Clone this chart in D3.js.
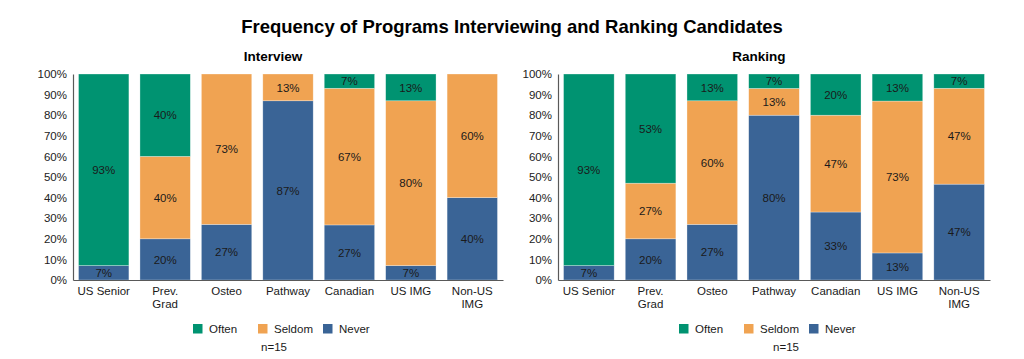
<!DOCTYPE html>
<html>
<head>
<meta charset="utf-8">
<script src="https://cdn.jsdelivr.net/npm/d3@7"></script>
<style>
  body { margin: 0; background: #fff; }
  svg { display: block; font-family: "Liberation Sans", Arial, sans-serif; }
</style>
</head>
<body>
<svg id="chart" width="1024" height="359"></svg>
<script>
const categories = ["US Senior", "Prev. Grad", "Osteo", "Pathway", "Canadian", "US IMG", "Non-US IMG"];
const seriesNames = ["Never", "Seldom", "Often"];
const legendOrder = ["Often", "Seldom", "Never"];
const colors = { Often: "#009371", Seldom: "#F0A352", Never: "#3A6496" };
const yTicks = [0, 10, 20, 30, 40, 50, 60, 70, 80, 90, 100];

const interviewOften  = [93, 40, 0, 0, 7, 13, 0];
const interviewSeldom = [0, 40, 73, 13, 67, 80, 60];
const interviewNever  = [7, 20, 27, 87, 27, 7, 40];

const rankingOften  = [93, 53, 13, 7, 20, 13, 7];
const rankingSeldom = [0, 27, 60, 13, 47, 73, 47];
const rankingNever  = [7, 20, 27, 80, 33, 13, 47];

const titleText = "Frequency of Programs Interviewing and Ranking Candidates";
const nText = "n=15";

const svg = d3.select("#chart");

svg.append("text")
  .attr("x", 512).attr("y", 33)
  .attr("text-anchor", "middle")
  .attr("font-weight", "bold")
  .attr("font-size", 18.5)
  .attr("fill", "#000")
  .text(titleText);

function panel(opts) {
  const { title, often, seldom, never, x0, x1, legendX, titleX, nX } = opts;
  const yTop = 74, yBot = 280;
  const rows = categories.map((c, i) => ({ cat: c, Often: often[i], Seldom: seldom[i], Never: never[i] }));
  const stack = d3.stack().keys(seriesNames).offset(d3.stackOffsetExpand);
  const layers = stack(rows);

  const x = d3.scaleBand().domain(categories).range([x0, x1]).paddingInner(0.18).paddingOuter(0.09);
  const y = d3.scaleLinear().domain([0, 1]).range([yBot, yTop]);

  const g = svg.append("g");

  g.append("text")
    .attr("x", titleX).attr("y", 61)
    .attr("text-anchor", "middle")
    .attr("font-weight", "bold")
    .attr("font-size", 13.5)
    .attr("fill", "#000")
    .text(title);

  // y axis
  const yAxis = d3.axisLeft(y).tickValues(yTicks.map(t => t / 100))
    .tickFormat((d, i) => yTicks[i] + "%").tickSize(0).tickPadding(6);
  const ya = g.append("g").attr("transform", `translate(${x0},0)`).call(yAxis);
  ya.select(".domain").attr("stroke", "#595959").attr("stroke-width", 1.2);
  ya.selectAll("text").attr("font-size", 11.5).attr("fill", "#222")
    .attr("font-family", "Liberation Sans, Arial, sans-serif");

  // bars
  layers.forEach(layer => {
    g.append("g").selectAll("rect").data(layer).join("rect")
      .attr("x", d => x(d.data.cat))
      .attr("width", x.bandwidth())
      .attr("y", d => y(d[1]))
      .attr("height", d => y(d[0]) - y(d[1]))
      .attr("fill", colors[layer.key])
      .attr("stroke", "#ffffff")
      .attr("stroke-opacity", 0.5)
      .attr("stroke-width", 0.6);
  });

  // labels
  layers.forEach(layer => {
    g.append("g").selectAll("text").data(layer.filter(d => d.data[layer.key] > 0)).join("text")
      .attr("x", d => x(d.data.cat) + x.bandwidth() / 2)
      .attr("y", d => (y(d[0]) + y(d[1])) / 2)
      .attr("dy", "0.36em")
      .attr("text-anchor", "middle")
      .attr("font-size", 11.5)
      .attr("fill", "#1a1a1a")
      .text(d => d.data[layer.key] + "%");
  });

  // x axis
  const xAxis = d3.axisBottom(x).tickSize(0).tickPadding(0).tickFormat("");
  const xa = g.append("g").attr("transform", `translate(0,${yBot})`).call(xAxis);
  xa.select(".domain").attr("stroke", "#595959").attr("stroke-width", 1.2);
  xa.selectAll(".tick").each(function(d) {
    const words = d.split(" ");
    let lines;
    if (d === "US Senior" || d === "US IMG") lines = [d];
    else if (words.length > 1) lines = [words[0], words.slice(1).join(" ")];
    else lines = [d];
    const t = d3.select(this).append("text")
      .attr("text-anchor", "middle")
      .attr("font-size", 11.5)
      .attr("fill", "#1a1a1a")
      .attr("font-family", "Liberation Sans, Arial, sans-serif");
    lines.forEach((l, i) => t.append("tspan").attr("x", 0).attr("y", 15 + i * 13).text(l));
  });

  // legend
  const offsets = [0, 65, 130];
  legendOrder.forEach((k, i) => {
    const lx = legendX + offsets[i];
    g.append("rect").attr("x", lx).attr("y", 324).attr("width", 9.5).attr("height", 9.5).attr("fill", colors[k]);
    g.append("text").attr("x", lx + 16).attr("y", 333)
      .attr("font-size", 11.5).attr("fill", "#1a1a1a").text(k);
  });
  g.append("text").attr("x", nX).attr("y", 351)
    .attr("text-anchor", "middle").attr("font-size", 11.5).attr("fill", "#1a1a1a").text(nText);
}

panel({ title: "Interview", often: interviewOften, seldom: interviewSeldom, never: interviewNever, x0: 73, x1: 503, legendX: 193, titleX: 273, nX: 274 });
panel({ title: "Ranking", often: rankingOften, seldom: rankingSeldom, never: rankingNever, x0: 558, x1: 990, legendX: 679, titleX: 759, nX: 786 });
</script>
</body>
</html>
